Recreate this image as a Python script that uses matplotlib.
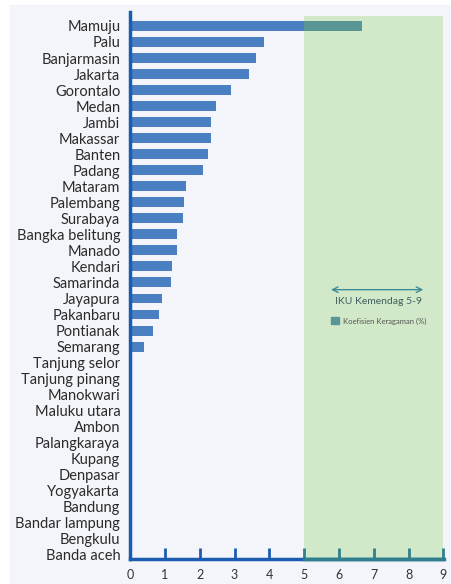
import numpy as np
import matplotlib
matplotlib.use("Agg")
import matplotlib.pyplot as plt
from matplotlib.patches import Patch, Rectangle

# data
cities = ["Mamuju", "Palu", "Banjarmasin", "Jakarta", "Gorontalo", "Medan",
          "Jambi", "Makassar", "Banten", "Padang", "Mataram", "Palembang",
          "Surabaya", "Bangka belitung", "Manado", "Kendari", "Samarinda",
          "Jayapura", "Pakanbaru", "Pontianak", "Semarang", "Tanjung selor",
          "Tanjung pinang", "Manokwari", "Maluku utara", "Ambon",
          "Palangkaraya", "Kupang", "Denpasar", "Yogyakarta", "Bandung",
          "Bandar lampung", "Bengkulu", "Banda aceh"]
values = [6.65, 3.86, 3.63, 3.41, 2.9, 2.46, 2.32, 2.32, 2.23, 2.09, 1.61,
          1.56, 1.53, 1.36, 1.36, 1.22, 1.17, 0.93, 0.84, 0.66, 0.41,
          0, 0, 0, 0, 0, 0, 0, 0, 0, 0, 0, 0, 0]
target_lo, target_hi = 5, 9
ticks_low = [0, 1, 2, 3, 4]
ticks_high = [5, 6, 7, 8, 9]

blue = "#4A80C1"
spine_blue = "#1A5DB0"
teal = "#2F7F8C"
overlap = "#5A9696"
green = "#D1E9C8"

plt.rcParams['font.family'] = ['Lato', 'DejaVu Sans']

fig = plt.figure(figsize=(4.51, 5.84), dpi=100)
fig.patch.set_facecolor("white")
fig.patches.append(Rectangle((10 / 451, 0), 1, 1 - 5 / 584,
                             transform=fig.transFigure, color="#F4F5FA",
                             zorder=-10))

ax = fig.add_axes([130 / 451, 1 - 559 / 584, 313.5 / 451, 547 / 584])
ax.set_facecolor("none")

n = len(cities)
y = np.arange(n)
ytop = -0.87
ybot = n - 1 + 0.25
ax.set_ylim(ybot, ytop)
ax.set_xlim(0, 9)

span = ax.axvspan(target_lo, target_hi, ymin=0,
                  ymax=(ybot + 0.62) / (ybot - ytop),
                  color=green, zorder=1, lw=0)
ax.barh(y, values, height=0.62, color=blue, zorder=2)
over = ax.barh(y, values, height=0.62, color=overlap, zorder=3)
for b in over:
    b.set_clip_path(span)

ax.set_yticks(y)
ax.set_yticklabels(cities, fontsize=10.5, color="#2B2B2B")
ax.set_xticks(ticks_low)
ax.set_xticklabels([str(t) for t in ticks_low])
ax.set_xticks(ticks_high, minor=True)
ax.set_xticklabels([str(t) for t in ticks_high], minor=True)
ax.tick_params(axis="y", length=0, pad=7)
ax.tick_params(axis="x", which="both", direction="in", length=8, width=2,
               pad=7, labelsize=9, labelcolor="#333333")
ax.tick_params(axis="x", which="major", color=spine_blue)
ax.tick_params(axis="x", which="minor", color=teal)
ax.xaxis.get_major_ticks()[0].tick1line.set_visible(False)

for s in ["top", "right"]:
    ax.spines[s].set_visible(False)
ax.spines["left"].set_color(spine_blue)
ax.spines["left"].set_linewidth(2.5)
ax.spines["bottom"].set_color(spine_blue)
ax.spines["bottom"].set_linewidth(2.5)
ax.axhline(ybot, xmin=target_lo / 9, xmax=1, color=teal, lw=2.5,
           clip_on=False, zorder=5)

ax.annotate("", xy=(5.69, 16.45), xytext=(8.5, 16.45),
            arrowprops=dict(arrowstyle="<->", color="#3E8C99", lw=1.0),
            zorder=6)
ax.text(7.12, 17.2, "IKU Kemendag 5-9", ha="center", va="center",
        fontsize=7.5, color="#3F5F5F", zorder=6)
ax.legend(handles=[Patch(color=overlap, label="Koefisien Keragaman (%)")],
          loc="center left", bbox_to_anchor=(0.62, 0.435), frameon=False,
          fontsize=5.5, handlelength=1.0, handleheight=1.0,
          handletextpad=0.6, labelcolor="#555555")

fig.savefig("out.png", dpi=100)
